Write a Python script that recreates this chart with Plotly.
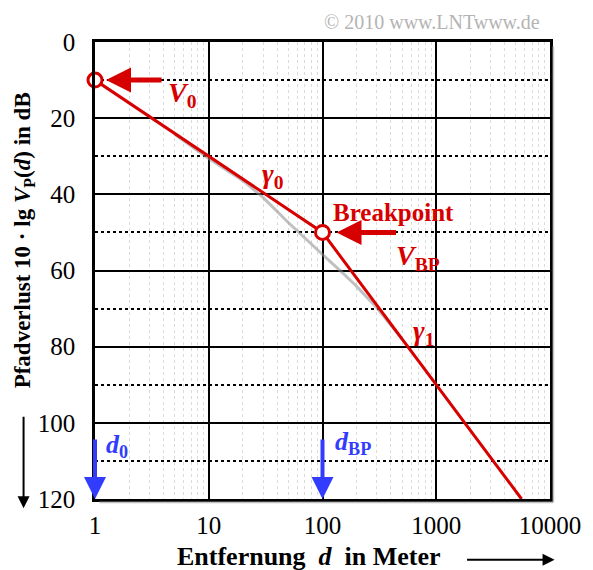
import numpy as np
import plotly.graph_objects as go

# Dual-slope path loss model (values in dB)
dist_model = [1, 100, 5623]          # d in metres
loss_model = [10, 50, 120]           # 10·lg V_P(d)

# Smooth reference curve (grey)
dist_smooth = [5, 10, 20, 30, 50, 70, 100, 150, 200, 300, 500]
loss_smooth = [24.2, 30.6, 36.4, 40.8, 47.4, 51.6, 55.8, 60.6, 64.2, 69.8, 78.0]

# Marked points: V_0 at d_0 and V_BP at d_BP
dist_marks = [1, 100]
loss_marks = [10, 50]

x_ticks = [1, 10, 100, 1000, 10000]
x_ticklabels = ["1", "10", "100", "1000", "10000"]
y_ticks = [0, 20, 40, 60, 80, 100, 120]
y_minor = [10, 30, 50, 70, 90, 110]
x_minor = [m * 10 ** k for k in range(4) for m in range(2, 10)]

RED = "rgb(215,0,0)"
BLUE = "rgb(50,60,255)"
FONT = "Liberation Serif"

fig = go.Figure()

fig.add_trace(go.Scatter(
    x=dist_smooth, y=loss_smooth, mode="lines",
    line=dict(color="rgba(140,140,140,0.55)", width=3),
    hoverinfo="skip", showlegend=False))

fig.add_trace(go.Scatter(
    x=dist_model, y=loss_model, mode="lines",
    line=dict(color=RED, width=3),
    showlegend=False))

fig.add_trace(go.Scatter(
    x=dist_marks, y=loss_marks, mode="markers",
    marker=dict(symbol="circle", size=14, color="white",
                line=dict(color=RED, width=3)),
    cliponaxis=False, showlegend=False))

tickfont = dict(family=FONT, size=25, color="black")

fig.update_xaxes(
    type="log", range=[0, 4],
    tickmode="array", tickvals=x_ticks, ticktext=x_ticklabels,
    tickfont=tickfont, ticks="", ticklabelstandoff=2,
    showgrid=True, gridcolor="black", gridwidth=1.5,
    minor=dict(tickmode="array", tickvals=x_minor, showgrid=True,
               gridcolor="rgba(190,190,190,0.55)", griddash="dot", gridwidth=1),
    showline=True, linecolor="black", linewidth=2.5, mirror=True,
    zeroline=False)

fig.update_yaxes(
    range=[120, 0],
    tickmode="array", tickvals=y_ticks,
    tickfont=tickfont, ticks="", ticklabelstandoff=12,
    showgrid=True, gridcolor="black", gridwidth=1.5,
    minor=dict(tickmode="array", tickvals=y_minor, showgrid=True,
               gridcolor="black", griddash="dot", gridwidth=1.5),
    showline=True, linecolor="black", linewidth=2.5, mirror=True,
    zeroline=False)

ann = []

def label(x, y, text, color, size):
    ann.append(dict(x=np.log10(x), y=y, xref="x", yref="y", text=text,
                    showarrow=False,
                    font=dict(family=FONT, size=size, color=color)))

# red arrows pointing at V_0 and V_BP
for (xd, yd, off, gap) in [(1, 10, 68, 11), (100, 50, 75, 14)]:
    ann.append(dict(x=np.log10(xd), y=yd, xref="x", yref="y", text="",
                    showarrow=True, ax=off, ay=0, axref="pixel", ayref="pixel",
                    arrowhead=2, arrowsize=1.0, arrowwidth=5, arrowcolor=RED,
                    standoff=gap))

# blue arrows marking d_0 and d_BP
for xd in [1, 100]:
    ann.append(dict(x=np.log10(xd), y=120, xref="x", yref="y", text="",
                    showarrow=True, ax=np.log10(xd), ay=104,
                    axref="x", ayref="y",
                    arrowhead=2, arrowsize=1.1, arrowwidth=4, arrowcolor=BLUE,
                    standoff=0))

label(5.9, 13.9, "<b><i>V</i><sub>0</sub></b>", RED, 28)
label(37, 35, "<b><i>γ</i><sub>0</sub></b>", RED, 28)
label(417, 44.9, "<b>Breakpoint</b>", RED, 25)
label(692, 56.7, "<b><i>V</i><sub>BP</sub></b>", RED, 28)
label(776, 76.2, "<b><i>γ</i><sub>1</sub></b>", RED, 28)
label(1.56, 106, "<b><i>d</i><sub>0</sub></b>", BLUE, 26)
label(187, 105.3, "<b><i>d</i><sub>BP</sub></b>", BLUE, 26)

# copyright
ann.append(dict(x=0.74, y=1.044, xref="paper", yref="paper",
                xanchor="center", yanchor="middle",
                text="© 2010 www.LNTwww.de", showarrow=False,
                font=dict(family=FONT, size=20, color="rgb(180,180,180)")))

# axis titles
ann.append(dict(x=-0.157, y=0.565, xref="paper", yref="paper",
                xanchor="center", yanchor="middle",
                text="<b>Pfadverlust 10 · lg <i>V</i><sub>P</sub>(<i>d</i>) in dB</b>",
                textangle=-90, showarrow=False,
                font=dict(family=FONT, size=23, color="black")))
ann.append(dict(x=0.47, y=-0.125, xref="paper", yref="paper",
                xanchor="center", yanchor="middle",
                text="<b>Entfernung  <i>d</i>  in Meter</b>", showarrow=False,
                font=dict(family=FONT, size=26, color="black")))

# direction arrows next to the titles
ann.append(dict(x=-0.157, y=-0.02, xref="paper", yref="paper", text="",
                showarrow=True, ax=0, ay=-93, axref="pixel", ayref="pixel",
                arrowhead=2, arrowsize=1.2, arrowwidth=2, arrowcolor="black"))
ann.append(dict(x=1.01, y=-0.133, xref="paper", yref="paper", text="",
                showarrow=True, ax=-89, ay=0, axref="pixel", ayref="pixel",
                arrowhead=2, arrowsize=1.2, arrowwidth=2, arrowcolor="black"))

# soft shadow along the right and bottom frame edges
shapes = [
    dict(type="line", xref="paper", yref="paper", x0=1.007, x1=1.007,
         y0=-0.007, y1=0.99, line=dict(color="rgba(150,150,150,0.6)", width=2)),
    dict(type="line", xref="paper", yref="paper", x0=0.01, x1=1.007,
         y0=-0.007, y1=-0.007, line=dict(color="rgba(150,150,150,0.6)", width=2)),
]

fig.update_layout(
    width=593, height=570,
    margin=dict(l=95, r=40, t=42, b=71),
    paper_bgcolor="white", plot_bgcolor="white",
    annotations=ann, shapes=shapes,
    showlegend=False)

fig.write_html("out.html")
